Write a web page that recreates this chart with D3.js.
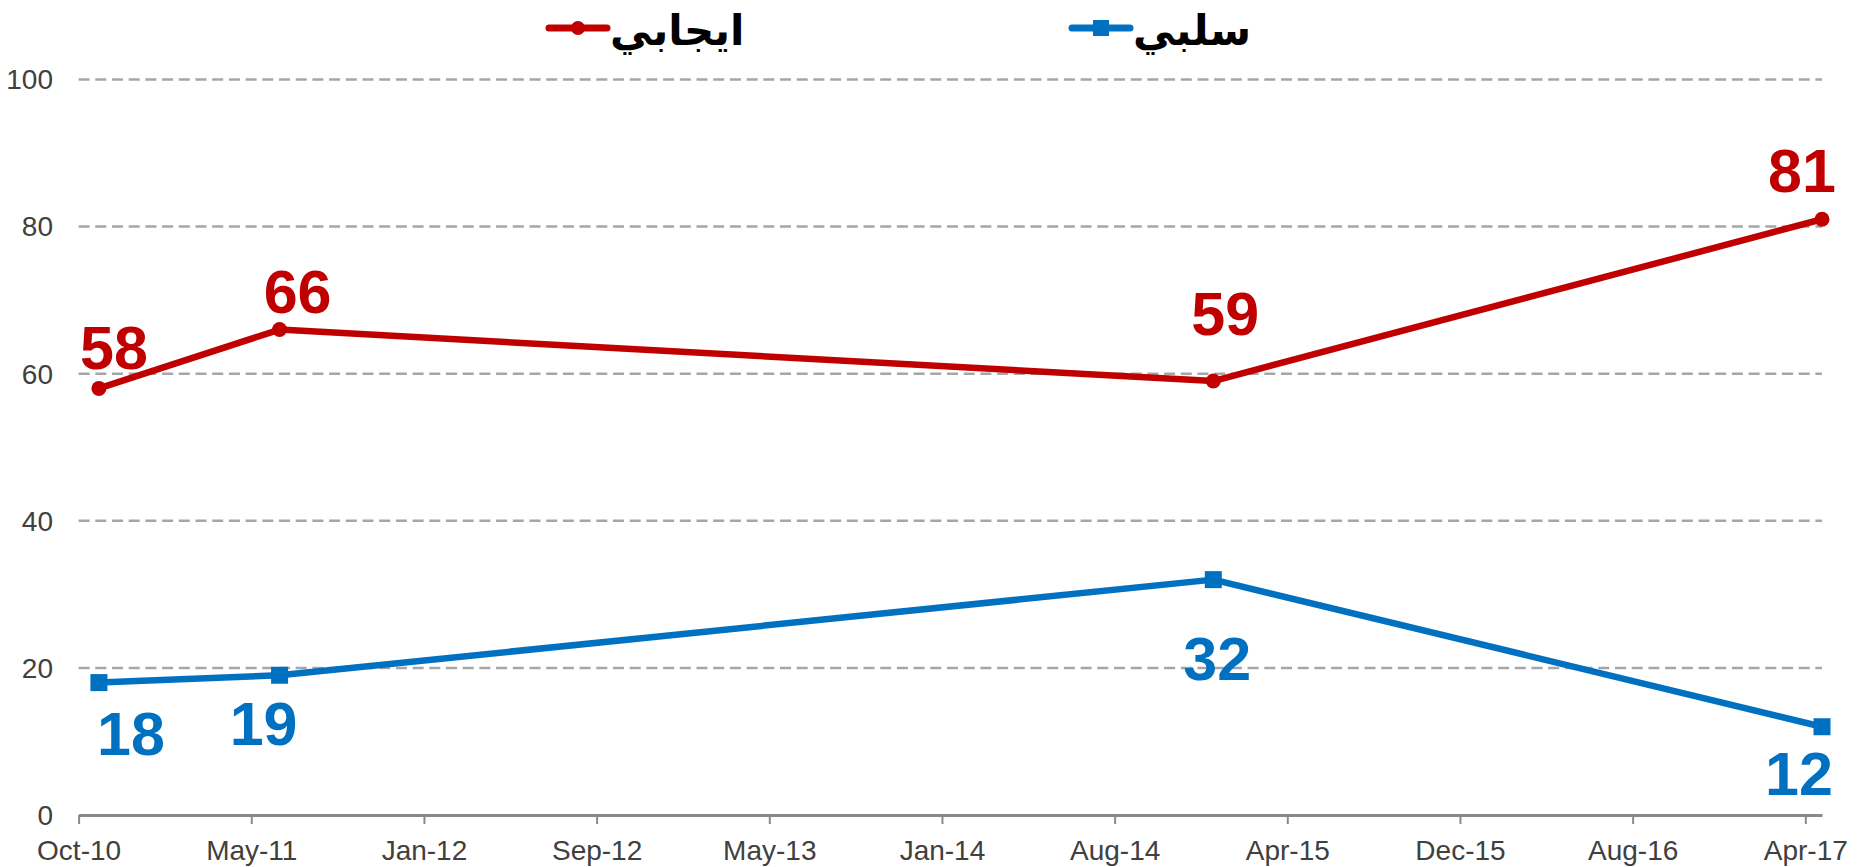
<!DOCTYPE html>
<html>
<head>
<meta charset="utf-8">
<script src="https://cdn.jsdelivr.net/npm/d3@7"></script>
<style>
  body { margin: 0; background: #fff; }
  svg { display: block; }
</style>
</head>
<body>
<script>
// survey dates and values
var surveyDates = ["2010-10-29", "2011-07-05", "2015-01-12", "2017-04-30"];
var positive = [58, 66, 59, 81];
var negative = [18, 19, 32, 12];
var seriesNames = ["ايجابي", "سلبي"];

// x axis ticks (date axis, every 238 days)
var tickDates = ["2010-10-01", "2011-05-27", "2012-01-20", "2012-09-14", "2013-05-10",
                 "2014-01-03", "2014-08-29", "2015-04-24", "2015-12-18", "2016-08-12", "2017-04-07"];
var tickLabels = ["Oct-10", "May-11", "Jan-12", "Sep-12", "May-13",
                  "Jan-14", "Aug-14", "Apr-15", "Dec-15", "Aug-16", "Apr-17"];
var yTicks = [0, 20, 40, 60, 80, 100];

var w = 1868;
var h = 867;

var red = "#C00000";
var blue = "#0070C0";

var parse = d3.utcParse("%Y-%m-%d");
var dates = surveyDates.map(parse);
var ticks = tickDates.map(parse);

var svg = d3.select("body")
            .append("svg")
            .attr("width", w)
            .attr("height", h);

var x = d3.scaleUtc()
    .domain([ticks[0], dates[dates.length - 1]])
    .range([78.6, 1822]);

var y = d3.scaleLinear()
    .domain([0, 100])
    .range([815, 79.5]);

// dashed gridlines
svg.append("g")
  .selectAll("line")
  .data(yTicks.filter(function(d) { return d > 0; }))
  .enter().append("line")
    .attr("x1", x.range()[0])
    .attr("x2", x.range()[1])
    .attr("y1", function(d) { return y(d); })
    .attr("y2", function(d) { return y(d); })
    .attr("stroke", "#a6a6a6")
    .attr("stroke-width", 2.5)
    .attr("stroke-dasharray", "11,5.7");

// y labels
svg.append("g")
  .selectAll("text")
  .data(yTicks)
  .enter().append("text")
    .attr("x", 53)
    .attr("y", function(d) { return y(d); })
    .attr("dy", "0.35em")
    .attr("text-anchor", "end")
    .attr("font-family", "Liberation Sans, Arial, sans-serif")
    .attr("font-size", 28)
    .attr("fill", "#404040")
    .text(function(d) { return d; });

// x axis
var xAxis = svg.append("g")
    .attr("transform", "translate(0," + y(0) + ")")
    .call(d3.axisBottom(x)
      .tickValues(ticks)
      .tickFormat(function(d, i) { return tickLabels[i]; })
      .tickSize(9)
      .tickSizeOuter(0)
      .tickPadding(16));

xAxis.select(".domain")
    .attr("stroke", "#898989")
    .attr("stroke-width", 3);
xAxis.selectAll(".tick line")
    .attr("stroke", "#898989")
    .attr("stroke-width", 2);
xAxis.selectAll(".tick text")
    .attr("font-family", "Liberation Sans, Arial, sans-serif")
    .attr("font-size", 28)
    .attr("fill", "#404040");

var line = d3.line()
    .x(function(d) { return x(d[0]); })
    .y(function(d) { return y(d[1]); });

var posData = d3.zip(dates, positive);
var negData = d3.zip(dates, negative);

svg.append("path")
    .datum(posData)
    .attr("d", line)
    .attr("fill", "none")
    .attr("stroke", red)
    .attr("stroke-width", 6.5)
    .attr("stroke-linejoin", "round");

svg.append("path")
    .datum(negData)
    .attr("d", line)
    .attr("fill", "none")
    .attr("stroke", blue)
    .attr("stroke-width", 6.5)
    .attr("stroke-linejoin", "round");

svg.append("g")
  .selectAll("circle")
  .data(posData)
  .enter().append("circle")
    .attr("cx", function(d) { return x(d[0]); })
    .attr("cy", function(d) { return y(d[1]); })
    .attr("r", 7.5)
    .attr("fill", red);

svg.append("g")
  .selectAll("rect")
  .data(negData)
  .enter().append("rect")
    .attr("x", function(d) { return x(d[0]) - 8.5; })
    .attr("y", function(d) { return y(d[1]) - 8.5; })
    .attr("width", 17)
    .attr("height", 17)
    .attr("fill", blue);

// label nudges (placed by hand in the original)
var posNudge = [[15, -19], [18, -17], [12, -46], [-20, -27]];
var negNudge = [[32, 72], [-16, 70], [4, 100], [-23, 68]];

function labels(data, nudge, color) {
  svg.append("g")
    .selectAll("text")
    .data(data)
    .enter().append("text")
      .attr("x", function(d, i) { return x(d[0]) + nudge[i][0]; })
      .attr("y", function(d, i) { return y(d[1]) + nudge[i][1]; })
      .attr("text-anchor", "middle")
      .attr("font-family", "Liberation Sans, Arial, sans-serif")
      .attr("font-weight", "bold")
      .attr("font-size", 61)
      .attr("fill", color)
      .text(function(d) { return d[1]; });
}
labels(posData, posNudge, red);
labels(negData, negNudge, blue);

// legend
var legend = [
  { name: seriesNames[0], color: red, x: 549, shape: "circle" },
  { name: seriesNames[1], color: blue, x: 1072, shape: "square" }
];

legend.forEach(function(l) {
  var g = svg.append("g").attr("transform", "translate(" + l.x + ",28)");
  g.append("line")
    .attr("x1", 0).attr("x2", 58)
    .attr("stroke", l.color)
    .attr("stroke-width", 7)
    .attr("stroke-linecap", "round");
  if (l.shape == "circle") {
    g.append("circle").attr("cx", 29).attr("r", 7).attr("fill", l.color);
  } else {
    g.append("rect").attr("x", 21).attr("y", -8).attr("width", 16).attr("height", 16).attr("fill", l.color);
  }
  g.append("text")
    .attr("x", 61)
    .attr("y", 17)
    .attr("font-family", "DejaVu Sans, sans-serif")
    .attr("font-weight", "bold")
    .attr("font-size", 42)
    .attr("fill", "#000")
    .text(l.name);
});
</script>
</body>
</html>
